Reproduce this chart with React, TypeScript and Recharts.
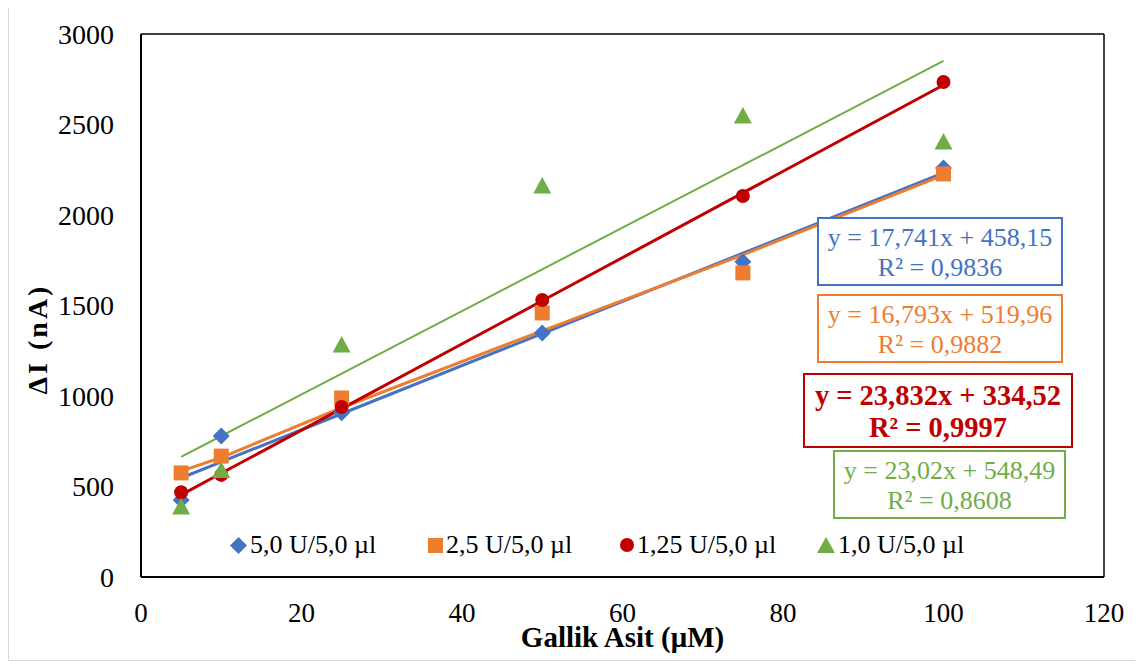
import { ComposedChart, Scatter, XAxis, YAxis, ReferenceLine, ReferenceDot } from 'recharts';

const xValues = [5, 10, 25, 50, 75, 100];
const blueValues = [425, 779, 908, 1348, 1742, 2260];
const orangeValues = [575, 668, 989, 1459, 1680, 2227];
const redValues = [468, 564, 939, 1530, 2105, 2735];
const greenValues = [387, 588, 1282, 2160, 2547, 2403];

// trendline values read at the marker x positions
const blueFit = [547, 636, 902, 1345, 1789, 2232];
const orangeFit = [585, 660, 935, 1360, 1780, 2220];
const redFit = [454, 573, 930, 1526, 2122, 2718];
const greenFit = [664, 779, 1124, 1700, 2275, 2851];

const xTicks = [0, 20, 40, 60, 80, 100, 120];
const yTicks = [0, 500, 1000, 1500, 2000, 2500, 3000];

const seriesNames = ['5,0 U/5,0 µl', '2,5 U/5,0 µl', '1,25 U/5,0 µl', '1,0 U/5,0 µl'];
const equations = [
  ['y = 17,741x + 458,15', 'R² = 0,9836'],
  ['y = 16,793x + 519,96', 'R² = 0,9882'],
  ['y = 23,832x + 334,52', 'R² = 0,9997'],
  ['y = 23,02x + 548,49', 'R² = 0,8608'],
];

const BLUE = '#4472C4';
const ORANGE = '#ED7D31';
const RED = '#C00000';
const GREEN = '#70AD47';
const FONT = '"Liberation Serif", serif';

const toPoints = (vals: number[]) => xValues.map((x, i) => ({ x, y: vals[i] }));

const Diamond = ({ cx, cy }: any) => (
  <path d={`M${cx} ${cy - 8.5} L${cx + 8.5} ${cy} L${cx} ${cy + 8.5} L${cx - 8.5} ${cy} Z`} fill={BLUE} />
);
const Square = ({ cx, cy }: any) => <rect x={cx - 7.5} y={cy - 7.5} width={15} height={15} fill={ORANGE} />;
const Dot = ({ cx, cy }: any) => <circle cx={cx} cy={cy} r={7} fill={RED} />;
const Triangle = ({ cx, cy }: any) => (
  <path d={`M${cx} ${cy - 9} L${cx + 9} ${cy + 7.5} L${cx - 9} ${cy + 7.5} Z`} fill={GREEN} />
);
const NoShape = () => <g />;

// tick labels drawn at the axis positions given by the chart scales
const xTickLabel = (v: number) => ({ viewBox }: any) => (
  <text
    x={viewBox.x + viewBox.width / 2}
    y={viewBox.y + viewBox.height / 2 + 45}
    textAnchor="middle"
    style={{ fontFamily: FONT, fontSize: '27px', fill: '#000' }}
  >
    {v}
  </text>
);
const yTickLabel = (v: number) => ({ viewBox }: any) => (
  <text
    x={viewBox.x + viewBox.width / 2 - 27}
    y={viewBox.y + viewBox.height / 2 + 9.5}
    textAnchor="end"
    style={{ fontFamily: FONT, fontSize: '28px', fill: '#000' }}
  >
    {v}
  </text>
);

const XLabel = ({ viewBox }: any) => (
  <text
    x={viewBox.x + viewBox.width / 2}
    y={viewBox.y + 70}
    textAnchor="middle"
    style={{ fontFamily: FONT, fontSize: '29px', fontWeight: 'bold', fill: '#000' }}
  >
    Gallik Asit (μM)
  </text>
);
const YLabel = () => (
  <text
    x={38}
    y={335}
    transform="rotate(-90 38 335)"
    textAnchor="middle"
    letterSpacing={3}
    style={{ fontFamily: FONT, fontSize: '28px', fontWeight: 'bold', fill: '#000' }}
  >
    ΔI (nA)
  </text>
);

const legendMarks = [
  <svg width={17} height={17}><path d="M8.5 0 L17 8.5 L8.5 17 L0 8.5 Z" fill={BLUE} /></svg>,
  <svg width={15} height={15}><rect width={15} height={15} fill={ORANGE} /></svg>,
  <svg width={14} height={14}><circle cx={7} cy={7} r={7} fill={RED} /></svg>,
  <svg width={18} height={16}><path d="M9 0 L18 16 L0 16 Z" fill={GREEN} /></svg>,
];
// left edge of each legend mark, relative to the frame
const legendLeft = [221, 419, 611, 808];

const boxes = [
  { left: 808, top: 213, width: 246, height: 69, color: BLUE, bold: false, size: 26, lh: 30, pad: 4 },
  { left: 808, top: 290, width: 246, height: 69, color: ORANGE, bold: false, size: 26, lh: 30, pad: 4 },
  { left: 794, top: 369, width: 270, height: 75, color: RED, bold: true, size: 28.5, lh: 32, pad: 5 },
  { left: 824, top: 446, width: 233, height: 69, color: GREEN, bold: false, size: 26, lh: 30, pad: 4 },
];

export default function App() {
  return (
    <div
      style={{
        position: 'relative',
        width: 1130,
        height: 656,
        marginTop: -5,
        border: '1px solid #d9d9d9',
        background: '#fff',
        fontFamily: FONT,
      }}
    >
      <ComposedChart width={1130} height={656} margin={{ top: 30, right: 35, left: 72, bottom: 23 }}>
        <XAxis
          type="number"
          dataKey="x"
          domain={[0, 120]}
          ticks={xTicks}
          tickSize={7}
          axisLine={{ stroke: '#000', strokeWidth: 2 }}
          tickLine={{ stroke: '#000', strokeWidth: 1.5 }}
          tick={false}
          height={60}
          label={XLabel}
        />
        <YAxis
          type="number"
          dataKey="y"
          domain={[0, 3000]}
          ticks={yTicks}
          tickSize={7}
          axisLine={{ stroke: '#000', strokeWidth: 2 }}
          tickLine={{ stroke: '#000', strokeWidth: 1.5 }}
          tick={false}
          width={60}
          label={YLabel}
        />
        <ReferenceLine y={3000} stroke="#000" strokeWidth={1.5} />
        <ReferenceLine x={120} stroke="#000" strokeWidth={1.5} />

        <Scatter data={toPoints(blueFit)} line={{ stroke: BLUE, strokeWidth: 3 }} shape={NoShape} isAnimationActive={false} />
        <Scatter data={toPoints(orangeFit)} line={{ stroke: ORANGE, strokeWidth: 3 }} shape={NoShape} isAnimationActive={false} />
        <Scatter data={toPoints(redFit)} line={{ stroke: RED, strokeWidth: 3 }} shape={NoShape} isAnimationActive={false} />
        <Scatter data={toPoints(greenFit)} line={{ stroke: GREEN, strokeWidth: 2 }} shape={NoShape} isAnimationActive={false} />

        <Scatter name={seriesNames[0]} data={toPoints(blueValues)} shape={Diamond} isAnimationActive={false} />
        <Scatter name={seriesNames[1]} data={toPoints(orangeValues)} shape={Square} isAnimationActive={false} />
        <Scatter name={seriesNames[2]} data={toPoints(redValues)} shape={Dot} isAnimationActive={false} />
        <Scatter name={seriesNames[3]} data={toPoints(greenValues)} shape={Triangle} isAnimationActive={false} />

        {xTicks.map((v) => (
          <ReferenceDot key={`xt${v}`} x={v} y={0} r={1} fill="none" stroke="none" ifOverflow="visible" label={xTickLabel(v)} />
        ))}
        {yTicks.map((v) => (
          <ReferenceDot key={`yt${v}`} x={0} y={v} r={1} fill="none" stroke="none" ifOverflow="visible" label={yTickLabel(v)} />
        ))}
      </ComposedChart>

      {seriesNames.map((name, i) => (
        <div
          key={name}
          style={{
            position: 'absolute',
            left: legendLeft[i],
            top: 526,
            height: 30,
            display: 'flex',
            alignItems: 'center',
            fontSize: 26,
            lineHeight: '30px',
            color: '#000',
            whiteSpace: 'nowrap',
          }}
        >
          <span style={{ marginRight: 3, display: 'flex' }}>{legendMarks[i]}</span>
          <span>{name}</span>
        </div>
      ))}

      {boxes.map((b, i) => (
        <div
          key={i}
          style={{
            position: 'absolute',
            left: b.left,
            top: b.top,
            width: b.width,
            height: b.height,
            border: `2px solid ${b.color}`,
            boxSizing: 'border-box',
            color: b.color,
            fontSize: b.size,
            fontWeight: b.bold ? 'bold' : 'normal',
            textAlign: 'center',
            lineHeight: `${b.lh}px`,
            paddingTop: b.pad,
            background: '#fff',
            whiteSpace: 'nowrap',
          }}
        >
          <div>{equations[i][0]}</div>
          <div>{equations[i][1]}</div>
        </div>
      ))}
    </div>
  );
}
